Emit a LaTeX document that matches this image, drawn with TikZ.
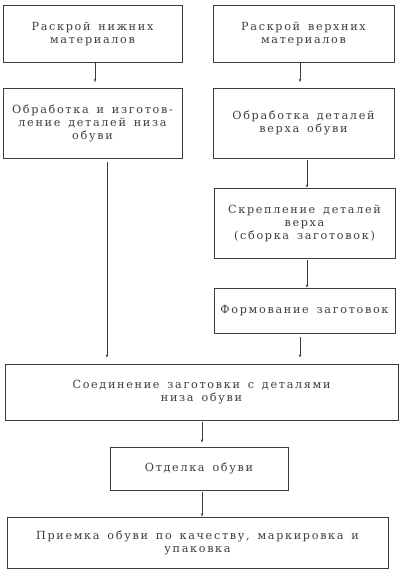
\documentclass[tikz,border=0pt]{standalone}
\usepackage{fontspec}
\setmainfont[LetterSpace=15,WordSpace=1.5]{DejaVu Serif}
\usepackage{xcolor}
\usetikzlibrary{calc,arrows.meta,positioning}
\definecolor{inkGray}{RGB}{60,60,60}
\tikzset{
  stage/.style={draw=inkGray,line width=0.6pt,text=inkGray,align=center,inner sep=0pt,
    font=\fontsize{11.2}{13}\selectfont},
  flow/.style={draw=inkGray,line width=0.4pt,-{Stealth[length=3.5pt,width=2.2pt]}}
}

\begin{document}
\begin{tikzpicture}[x=1pt,y=-1pt]
\useasboundingbox (0,0) rectangle (400,579);
% left branch
\node[stage,minimum width=179pt,minimum height=57pt] (cutLow) at (92.5,33.5) {Раскрой нижних\\материалов};
\node[stage,minimum width=179pt,minimum height=70pt] (makeLow) at (92.5,123) {Обработка и изготов-\\ление деталей низа\\обуви};
% right branch
\node[stage,minimum width=181pt,minimum height=57pt] (cutUp) at (303.5,33.5) {Раскрой верхних\\материалов};
\node[stage,minimum width=181pt,minimum height=70pt] (makeUp) at (303.5,123) {Обработка деталей\\верха обуви};
\node[stage,minimum width=181pt,minimum height=70pt] (joinUp) at (304.5,223) {Скрепление деталей\\верха\\(сборка заготовок)};
\node[stage,minimum width=181pt,minimum height=45pt] (shapeUp) at (304.5,310.5) {Формование заготовок};
% common part
\node[stage,minimum width=393pt,minimum height=56pt] (assembly) at (201.5,392) {Соединение заготовки с деталями\\низа обуви};
\node[stage,minimum width=178pt,minimum height=43pt] (finish) at (199,468.5) {Отделка обуви};
\node[stage,minimum width=381pt,minimum height=51pt] (accept) at (197.5,542.5) {Приемка обуви по качеству, маркировка и\\упаковка};

\draw[flow] ($(cutLow.south)+(2.5,0)$) -- ++(0,20);
\draw[flow] ($(cutUp.south)+(-3.5,0)$) -- ++(0,20);
\draw[flow] ($(makeUp.south)+(3.5,2)$) -- (joinUp.north -| 307,0);
\draw[flow] ($(joinUp.south)+(2.5,2)$) -- (shapeUp.north -| 307,0);
\draw[flow] ($(makeLow.south)+(14.5,4)$) -- ($(assembly.north)+(-94.5,-6)$);
\draw[flow] ($(shapeUp.south)+(-4.5,4)$) -- ($(assembly.north)+(98.5,-6)$);
\draw[flow] ($(assembly.south)+(0.5,2)$) -- ($(finish.north)+(3,-4)$);
\draw[flow] ($(finish.south)+(3,2)$) -- (accept.north -| 202,0);
\end{tikzpicture}
\end{document}
